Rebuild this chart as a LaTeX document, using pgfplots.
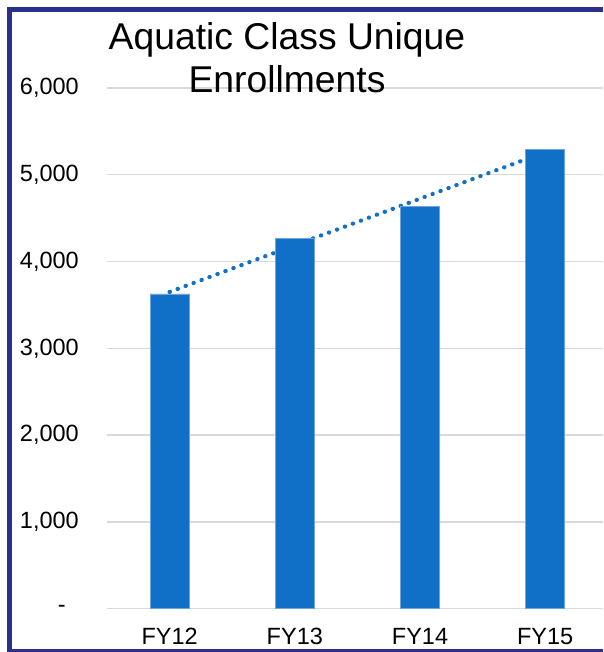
\documentclass[border=0pt]{standalone}
\usepackage{pgfplots}
\pgfplotsset{compat=1.18}
\usepackage{fontspec}
\setmainfont{Liberation Sans}
\definecolor{barblue}{RGB}{16,111,198}
\definecolor{baredge}{RGB}{110,165,222}
\definecolor{navyframe}{RGB}{44,47,140}
\definecolor{gridgrey}{RGB}{217,217,217}
\begin{document}
\begin{tikzpicture}
\path[use as bounding box] (0,0) rectangle (603pt,-652pt);
\begin{scope}
\clip (0,0) rectangle (603pt,-652pt);
\fill[white] (0,0) rectangle (603pt,-652pt);
\begin{axis}[
  at={(107pt,-608.7pt)}, anchor=south west,
  scale only axis, width=500.8pt, height=520.8pt,
  xmin=-0.5, xmax=3.5, ymin=0, ymax=6000,
  axis line style={draw=none}, tick style={draw=none},
  ymajorgrids, grid style={gridgrey, line width=1.5pt},
  ytick={0,1000,2000,3000,4000,5000,6000},
  yticklabels={{-\rule{13pt}{0pt}},{1,000},{2,000},{3,000},{4,000},{5,000},{6,000}},
  xtick={0,1,2,3},
  xticklabels={FY12,FY13,FY14,FY15},
  /pgf/number format/assume math mode=true,
  yticklabel style={font=\fontsize{23.5}{28}\selectfont, inner sep=0pt, anchor=east, xshift=-28pt},
  xticklabel style={font=\fontsize{23.5}{28}\selectfont, inner sep=0pt, anchor=north, yshift=-19pt},
  clip=false,
]
\addplot[barblue, line width=4.2pt, line cap=round, dash pattern=on 0.3pt off 8.2pt] coordinates {(0,3650) (3,5261)};
\addplot[ybar, bar width=39pt, fill=barblue, draw=baredge, line width=0.8pt] coordinates {(0,3626) (1,4267) (2,4636) (3,5293)};
\end{axis}
\node[anchor=base, inner sep=0pt, font=\fontsize{37.3}{43}\selectfont] at (287pt,-50pt) {Aquatic Class Unique};
\node[anchor=base, inner sep=0pt, font=\fontsize{37.3}{43}\selectfont] at (287pt,-93pt) {Enrollments};
\draw[navyframe, line width=4.5pt] (9.5pt,-650.5pt) -- (9.5pt,-9.5pt) -- (603pt,-9.5pt);
\draw[navyframe, line width=2.5pt] (7.25pt,-650.5pt) -- (603pt,-650.5pt);
\end{scope}
\end{tikzpicture}
\end{document}
